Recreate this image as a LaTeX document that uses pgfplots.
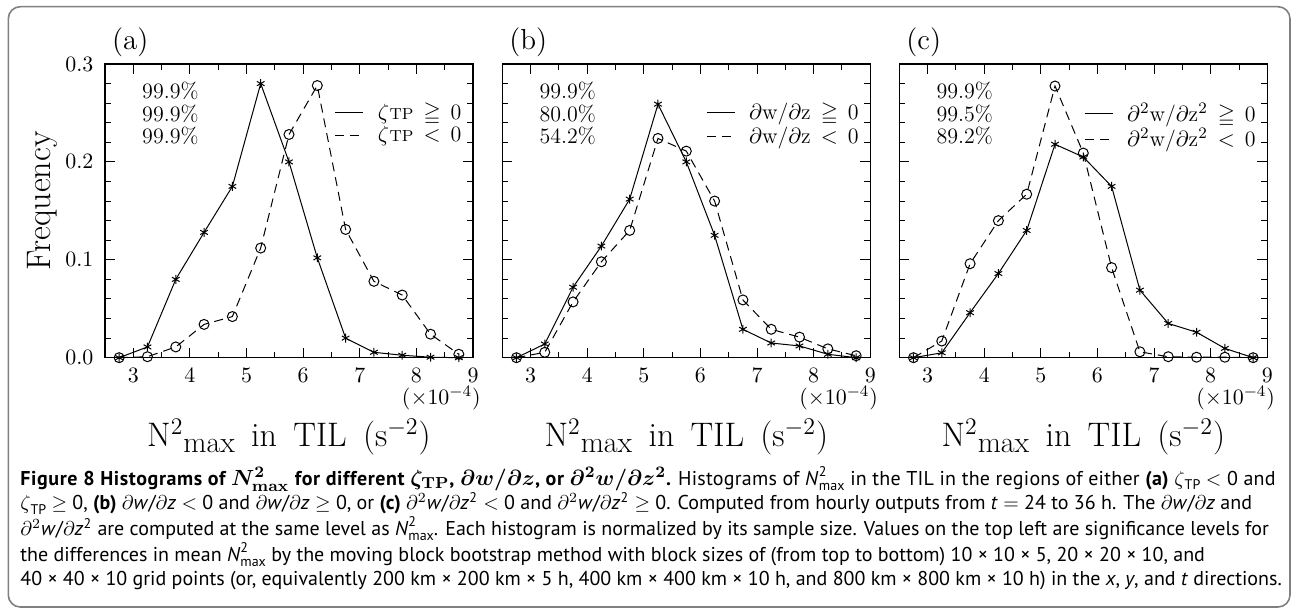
\documentclass[border=0pt]{standalone}
\usepackage{amssymb}
\usepackage{fontspec}
\usepackage{pgfplots}
\pgfplotsset{compat=1.18}
\newfontfamily\capfont{PT Sans}

% caption helpers
\newcommand\Nmax{\textit{N}\rlap{\raisebox{0.85ex}{\scriptsize 2}}\raisebox{-0.55ex}{\scriptsize max}}
\newcommand\zTP{$\zeta$\raisebox{-0.45ex}{\scriptsize TP}}
\newcommand\dwdz{$\partial$\textit{w}/$\partial$\textit{z}}
\newcommand\ddwdz{$\partial^2$\textit{w}/$\partial$\textit{z}\textsuperscript{2}}
\newcommand\gap{\hspace{5pt}}
\newcommand\TP{$\zeta$\kern0.3pt{\fontsize{8}{8}\selectfont TP}}

\tikzset{scalenote/.style={anchor=base, inner sep=0pt, font=\fontsize{11}{13}\selectfont}}

\pgfplotsset{
  panel/.style={
    scale only axis, width=184pt, height=146.85pt, anchor=south west,
    xmin=2.5, xmax=9, ymin=0, ymax=0.3, clip=false,
    xtick={3,...,9}, minor x tick num=1,
    ytick={0,0.1,0.2,0.3}, minor y tick num=4,
    tick align=inside, major tick length=5pt, minor tick length=3pt,
    axis line style={line width=0.6pt},
    every tick/.style={black, line width=0.5pt},
    tick label style={font=\fontsize{11}{13}\selectfont},
    xticklabel style={inner sep=1pt, yshift=-4.1pt},
    yticklabel style={xshift=-2.3pt, /pgf/number format/.cd, fixed, fixed zerofill, precision=1},
    xlabel={N\textsuperscript{2}\raisebox{-0.35ex}{\fontsize{15}{15}\selectfont max}\hspace{3pt} in\hspace{3pt} TIL\hspace{3pt} (s$^{-2}$)},
    xlabel style={at={(rel axis cs:0.5,-0.304)}, anchor=base, font=\fontsize{17}{20}\selectfont},
    legend style={at={(rel axis cs:0.975,0.875)}, anchor=north east, draw=none, fill=none,
      font=\fontsize{11}{11}\selectfont, row sep=0pt, column sep=6pt, inner sep=0pt,
      nodes={inner sep=1pt}},
    legend cell align=left,
    legend image code/.code={\draw[#1] (0pt,0pt) -- (14pt,0pt);},
  },
  pos/.style={black, solid, line width=0.5pt, mark=asterisk, mark size=2.2pt, mark options={solid}},
  neg/.style={black, dash pattern=on 4.5pt off 3pt, line width=0.5pt, mark=o, mark size=2.5pt, mark options={solid}},
}

\begin{document}
\begin{tikzpicture}
\path[use as bounding box] (0pt,0pt) rectangle (647pt,305pt);
\draw[black!50, line width=0.8pt, rounded corners=6pt] (4.15pt,1.5pt) rectangle (645pt,301.65pt);

% ---------- (a) ----------
\begin{axis}[panel, at={(52.5pt,126.15pt)},
  ylabel={Frequency},
  ylabel style={at={(rel axis cs:-0.149,0.534)}, anchor=base, font=\fontsize{17}{20}\selectfont}]
\addplot[pos, forget plot] coordinates {
  (2.75,0) (3.25,0.011) (3.75,0.080) (4.25,0.128) (4.75,0.175) (5.25,0.280) (5.75,0.200)
  (6.25,0.102) (6.75,0.020) (7.25,0.0055) (7.75,0.0025) (8.25,0.0005) (8.75,0)};
\addplot[neg, forget plot] coordinates {
  (2.75,0) (3.25,0.001) (3.75,0.011) (4.25,0.034) (4.75,0.042) (5.25,0.112) (5.75,0.228)
  (6.25,0.278) (6.75,0.131) (7.25,0.078) (7.75,0.064) (8.25,0.024) (8.75,0.0035)};
\addlegendimage{black, solid, line width=0.5pt}
\addlegendentry{\TP\gap$\geqq$\gap 0}
\addlegendimage{black, dash pattern=on 4.5pt off 3pt, line width=0.5pt}
\addlegendentry{\TP\gap$<$\gap 0}
\node[anchor=base west, font=\fontsize{14.5}{16}\selectfont] at (rel axis cs:0.0,1.048) {(a)};
\node[anchor=base west, font=\fontsize{11}{13}\selectfont] at (rel axis cs:0.082,0.881) {99.9\%};
\node[anchor=base west, font=\fontsize{11}{13}\selectfont] at (rel axis cs:0.082,0.8035) {99.9\%};
\node[anchor=base west, font=\fontsize{11}{13}\selectfont] at (rel axis cs:0.082,0.730) {99.9\%};
\node[scalenote] at (rel axis cs:0.914,-0.16) {$(\times10^{-4})$};
\end{axis}

% ---------- (b) ----------
\begin{axis}[panel, at={(251.15pt,126.15pt)}, yticklabels={,,,}]
\addplot[pos, forget plot] coordinates {
  (2.75,0) (3.25,0.014) (3.75,0.072) (4.25,0.114) (4.75,0.162) (5.25,0.259) (5.75,0.200)
  (6.25,0.125) (6.75,0.029) (7.25,0.015) (7.75,0.012) (8.25,0.0035) (8.75,0)};
\addplot[neg, forget plot] coordinates {
  (2.75,0) (3.25,0.0055) (3.75,0.057) (4.25,0.098) (4.75,0.130) (5.25,0.224) (5.75,0.211)
  (6.25,0.160) (6.75,0.059) (7.25,0.029) (7.75,0.021) (8.25,0.009) (8.75,0.002)};
\addlegendimage{black, solid, line width=0.5pt}
\addlegendentry{$\partial$w/$\partial$z\gap$\geqq$\gap 0}
\addlegendimage{black, dash pattern=on 4.5pt off 3pt, line width=0.5pt}
\addlegendentry{$\partial$w/$\partial$z\gap$<$\gap 0}
\node[anchor=base west, font=\fontsize{14.5}{16}\selectfont] at (rel axis cs:0.0,1.048) {(b)};
\node[anchor=base west, font=\fontsize{11}{13}\selectfont] at (rel axis cs:0.082,0.881) {99.9\%};
\node[anchor=base west, font=\fontsize{11}{13}\selectfont] at (rel axis cs:0.082,0.8035) {80.0\%};
\node[anchor=base west, font=\fontsize{11}{13}\selectfont] at (rel axis cs:0.082,0.730) {54.2\%};
\node[scalenote] at (rel axis cs:0.914,-0.16) {$(\times10^{-4})$};
\end{axis}

% ---------- (c) ----------
\begin{axis}[panel, at={(449.65pt,126.15pt)}, yticklabels={,,,}]
\addplot[pos, forget plot] coordinates {
  (2.75,0) (3.25,0.005) (3.75,0.046) (4.25,0.086) (4.75,0.130) (5.25,0.218) (5.75,0.205)
  (6.25,0.175) (6.75,0.069) (7.25,0.035) (7.75,0.026) (8.25,0.0095) (8.75,0)};
\addplot[neg, forget plot] coordinates {
  (2.75,0) (3.25,0.017) (3.75,0.096) (4.25,0.140) (4.75,0.167) (5.25,0.2775) (5.75,0.209)
  (6.25,0.092) (6.75,0.006) (7.25,0.001) (7.75,0.0005) (8.25,0.0005) (8.75,0)};
\addlegendimage{black, solid, line width=0.5pt}
\addlegendentry{$\partial^2$w/$\partial$z$^2$\gap$\geqq$\gap 0}
\addlegendimage{black, dash pattern=on 4.5pt off 3pt, line width=0.5pt}
\addlegendentry{$\partial^2$w/$\partial$z$^2$\gap$<$\gap 0}
\node[anchor=base west, font=\fontsize{14.5}{16}\selectfont] at (rel axis cs:0.0,1.048) {(c)};
\node[anchor=base west, font=\fontsize{11}{13}\selectfont] at (rel axis cs:0.082,0.881) {99.9\%};
\node[anchor=base west, font=\fontsize{11}{13}\selectfont] at (rel axis cs:0.082,0.8035) {99.5\%};
\node[anchor=base west, font=\fontsize{11}{13}\selectfont] at (rel axis cs:0.082,0.730) {89.2\%};
\node[scalenote] at (rel axis cs:0.914,-0.16) {$(\times10^{-4})$};
\end{axis}

% ---------- caption ----------
\begin{scope}[every node/.style={anchor=base west, inner sep=0pt, font=\capfont\fontsize{10}{12}\selectfont}]
\node at (10pt,62.5pt) {{\bfseries\addfontfeature{LetterSpace=3}Figure 8 Histograms of {\fontsize{11}{12}\selectfont\boldmath$N^2_{\mathbf{max}}$} for different {\fontsize{11}{12}\selectfont\boldmath$\zeta_{\mathbf{TP}}$}, {\fontsize{11}{12}\selectfont\boldmath$\partial w/\partial z$}, or {\fontsize{11}{12}\selectfont\boldmath$\partial^2 w/\partial z^2$}.} {\addfontfeature{LetterSpace=1.2}Histograms of \Nmax{} in the TIL in the regions of either {\bfseries (a)} \zTP{} $<$ 0 and}};
\node at (10pt,50pt) {\zTP{} $\geq$ 0, {\bfseries (b)} \dwdz{} $<$ 0 and \dwdz{} $\geq$ 0, or {\bfseries (c)} \ddwdz{} $<$ 0 and \ddwdz{} $\geq$ 0. Computed from hourly outputs from \textit{t} $=$ 24 to 36 h. The \dwdz{} and};
\node at (10pt,37.25pt) {\ddwdz{} are computed at the same level as \Nmax. Each histogram is normalized by its sample size. Values on the top left are significance levels for};
\node at (10pt,24.5pt) {the differences in mean \Nmax{} by the moving block bootstrap method with block sizes of (from top to bottom) 10 × 10 × 5, 20 × 20 × 10, and};
\node at (10pt,12.25pt) {40 × 40 × 10 grid points (or, equivalently 200 km × 200 km × 5 h, 400 km × 400 km × 10 h, and 800 km × 800 km × 10 h) in the \textit{x}, \textit{y}, and \textit{t} directions.};
\end{scope}
\end{tikzpicture}
\end{document}
